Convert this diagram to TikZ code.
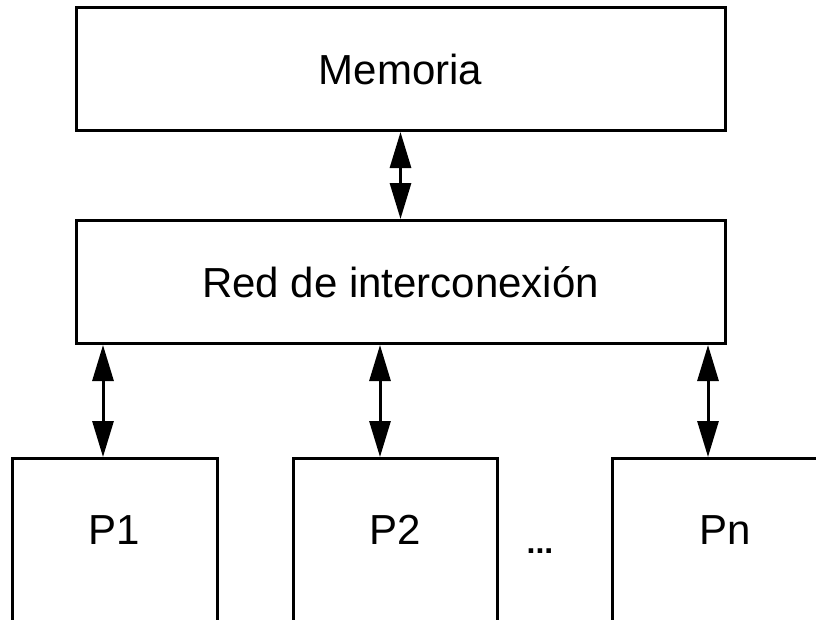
\documentclass[tikz,border=0pt]{standalone}
\usepackage{fontspec}
\setmainfont{Liberation Sans}
\usepackage{tikz}
\usetikzlibrary{
	arrows.meta,
	calc,
	positioning,
}
\tikzset{
	block/.style={
		draw,
		line width=3pt,
		minimum height=123pt,
		minimum width=649pt,
		font=\fontsize{42}{50}\selectfont,
	},
	procbox/.style={
		draw,
		line width=3pt,
		anchor=north,
		minimum height=250pt,
	},
	proclabel/.style={
		font=\fontsize{42}{50}\selectfont,
	},
	biarrow/.style={
		line width=3pt,
		{Triangle[length=36pt,width=21pt]}-{Triangle[length=36pt,width=21pt]},
	},
}

\begin{document}
\begin{tikzpicture}[x=1pt, y=-1pt]
\clip (0,0) rectangle (816,619);

\node[block](mem) at(400.5,69) {Memoria};
\node[block](red) at(400.5,282) {Red de interconexi\'on};

\draw[biarrow] (mem.south) -- (red.north);

\foreach[count=\i] \x/\w/\a/\t in {
	114.5/205/103/P1, 395/204/380/P2, 725/226/708/Pn%
}{
	\node[procbox, minimum width=\w pt](p\i) at(\x,457) {};
	\node[proclabel](t\i) at([yshift=-73pt]p\i.north) {\t};
	\draw[biarrow] (red.south -| \a,0) -- (p\i.north -| \a,0);
}

\node[font=\fontsize{32}{38}\selectfont\bfseries](dots) at(540,551) {...};
\end{tikzpicture}
\end{document}
